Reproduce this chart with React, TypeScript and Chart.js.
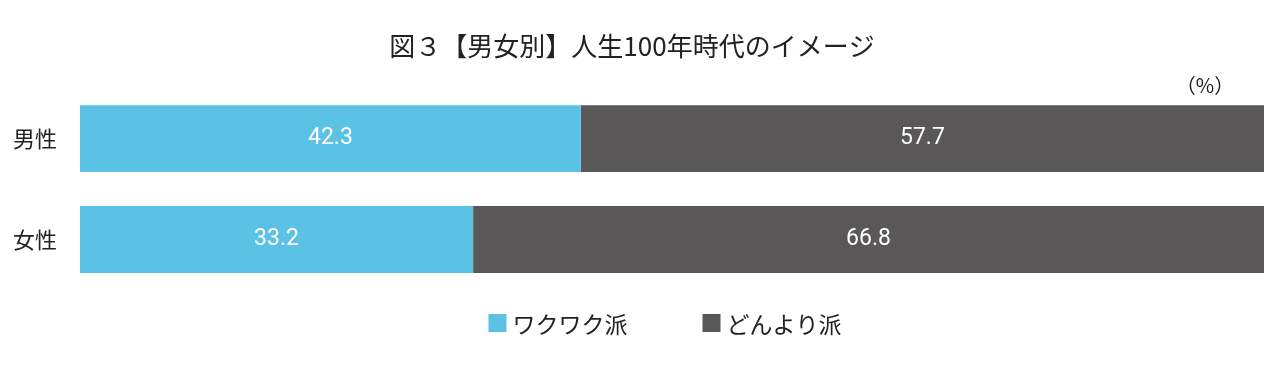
import React, { useEffect, useRef } from "react";
import { Chart, registerables } from "chart.js";

Chart.register(...registerables);

const categories = ["男性", "女性"];
const seriesNames = ["ワクワク派", "どんより派"];
const wakuwaku = [42.3, 33.2];
const donyori = [57.7, 66.8];
const colors = ["#5BC2E5", "#595757"];
const titleText = "図３【男女別】人生100年時代のイメージ";
const unitText = "（%）";

const FONT = "'Noto Sans CJK JP', 'Noto Sans', sans-serif";
const NUM_FONT = "Roboto, 'Noto Sans', sans-serif";

const valueLabels = {
  id: "valueLabels",
  afterDatasetsDraw(chart: any) {
    const ctx = chart.ctx;
    ctx.save();
    ctx.fillStyle = "#ffffff";
    ctx.font = `23px ${NUM_FONT}`;
    ctx.textAlign = "center";
    ctx.textBaseline = "middle";
    chart.data.datasets.forEach((ds: any, i: number) => {
      const meta = chart.getDatasetMeta(i);
      meta.data.forEach((bar: any, j: number) => {
        const p = bar.getProps(["x", "y", "base"], true);
        ctx.fillText(ds.data[j].toFixed(1), (p.x + p.base) / 2, p.y);
      });
    });
    ctx.restore();
  },
};

const unitAndLegend = {
  id: "unitAndLegend",
  afterDraw(chart: any) {
    const ctx = chart.ctx;
    const area = chart.chartArea;
    ctx.save();
    ctx.fillStyle = "#222222";
    ctx.font = `20px ${FONT}`;
    ctx.textAlign = "center";
    ctx.textBaseline = "middle";
    ctx.fillText(unitText, area.right - 59, area.top - 3);

    // legend
    const box = 18;
    const gap = 6;
    const itemGap = 75;
    ctx.font = `23px ${FONT}`;
    ctx.textAlign = "left";
    const widths = chart.data.datasets.map((ds: any) => box + gap + ctx.measureText(ds.label).width);
    const total = widths.reduce((a: number, b: number) => a + b, 0) + itemGap * (widths.length - 1);
    let x = (area.left + area.right) / 2 - 7 - total / 2;
    const y = area.bottom + 33;
    chart.data.datasets.forEach((ds: any, i: number) => {
      ctx.fillStyle = ds.backgroundColor;
      ctx.fillRect(x, y - box / 2, box, box);
      ctx.fillStyle = "#222222";
      ctx.fillText(ds.label, x + box + gap, y + 1);
      x += widths[i] + itemGap;
    });
    ctx.restore();
  },
};

export default function App() {
  const ref = useRef<HTMLCanvasElement>(null);
  useEffect(() => {
    if (!ref.current) return;
    const chart = new Chart(ref.current, {
      type: "bar",
      data: {
        labels: categories,
        datasets: [
          { label: seriesNames[0], data: wakuwaku, backgroundColor: colors[0], borderWidth: 0 },
          { label: seriesNames[1], data: donyori, backgroundColor: colors[1], borderWidth: 0 },
        ],
      },
      options: {
        indexAxis: "y",
        animation: false,
        responsive: false,
        maintainAspectRatio: false,
        layout: { padding: { left: 0, right: 16, top: 0, bottom: 76 } },
        datasets: { bar: { barPercentage: 0.663, categoryPercentage: 1 } },
        scales: {
          x: { stacked: true, min: 0, max: 100, display: false },
          y: {
            stacked: true,
            grid: { display: false, drawTicks: false },
            border: { display: false },
            ticks: { color: "#222222", font: { family: FONT, size: 22 }, padding: 23 },
            afterFit(scale: any) {
              scale.width = 80;
            },
          },
        },
        plugins: {
          title: {
            display: true,
            text: titleText,
            color: "#222222",
            font: { family: FONT, size: 26, weight: "normal" },
            padding: { top: 31, bottom: 26 },
          },
          legend: { display: false },
          tooltip: { enabled: false },
        },
      },
      plugins: [valueLabels, unitAndLegend],
    });
    return () => chart.destroy();
  }, []);
  return (
    <div style={{ position: "fixed", left: 0, top: 0, width: 1280, height: 366, background: "#fff" }}>
      <canvas ref={ref} width={1280} height={366} style={{ width: 1280, height: 366 }} />
    </div>
  );
}
